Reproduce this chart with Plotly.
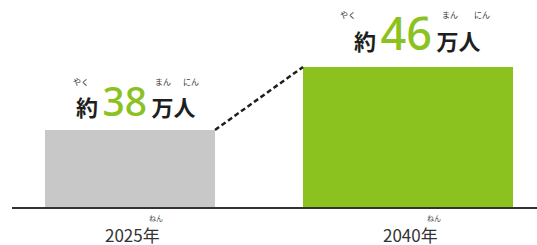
import plotly.graph_objects as go

years = ["2025年", "2040年"]
values = [38, 46]
label_nums = ["38", "46"]
bar_colors = ["#c8c8c8", "#8cc21f"]
bar_widths = [0.6115, 0.7554]
xpos = [0, 1]

GREEN = "#8cc21f"
DARK = "#1e1e1e"
CJK = "Noto Sans CJK JP"

fig = go.Figure()
fig.add_trace(go.Bar(x=xpos, y=values, width=bar_widths,
                     marker=dict(color=bar_colors, line=dict(width=0)),
                     hoverinfo="skip", showlegend=False))

# dashed connector between bar tops
x0 = xpos[0] + bar_widths[0] / 2
x1 = xpos[1] - bar_widths[1] / 2
fig.add_trace(go.Scatter(x=[x0, x1], y=[values[0], values[1]], mode="lines",
                         line=dict(color=DARK, width=2.5, dash="5px,3px"),
                         hoverinfo="skip", showlegend=False))

annotations = []
num_sizes = [39, 45]
label_cfg = [
    dict(xs=6, ys=1, ruby=[(-49, "やく"), (33, "まん"), (61, "にん")], ry=48),
    dict(xs=9, ys=2, ruby=[(-60, "やく"), (42, "まん"), (74, "にん")], ry=52),
]
gap = "<span style='font-size:20px'> </span>"
for i in range(2):
    cfg = label_cfg[i]
    txt = (f"<span style='font-weight:bold'>約</span>{gap}"
           f"<span style='color:{GREEN};font-size:{num_sizes[i]}px;font-family:Noto Sans;font-weight:500'>{label_nums[i]}</span>"
           f"{gap}<span style='font-weight:bold'>万人</span>")
    annotations.append(dict(x=xpos[i], y=values[i], xref="x", yref="y",
                            text=txt, showarrow=False, xanchor="center",
                            yanchor="bottom", xshift=cfg["xs"], yshift=cfg["ys"],
                            font=dict(family=CJK, size=22, color=DARK)))
    for dx, r in cfg["ruby"]:
        annotations.append(dict(x=xpos[i], y=values[i], xref="x", yref="y",
                                text=r, showarrow=False, xanchor="center",
                                yanchor="middle", xshift=dx,
                                yshift=cfg["ry"],
                                font=dict(family=CJK, size=8, color="#333")))
    # year labels
    annotations.append(dict(x=xpos[i], y=0, xref="x", yref="paper",
                            text=years[i], showarrow=False, xanchor="center",
                            yanchor="middle", yshift=-27, xshift=2,
                            borderpad=0,
                            font=dict(family=CJK, size=17, color="#333")))
    annotations.append(dict(x=xpos[i], y=0, xref="x", yref="paper",
                            text="ねん", showarrow=False, xanchor="center",
                            yanchor="middle", yshift=-11, xshift=26,
                            borderpad=0,
                            font=dict(family=CJK, size=7, color="#444")))

fig.update_layout(
    width=537, height=245,
    margin=dict(l=12, r=0, t=0, b=38),
    paper_bgcolor="white", plot_bgcolor="white",
    xaxis=dict(range=[-0.4245, 1.464], showgrid=False, zeroline=False,
               showticklabels=False, ticks="", showline=True,
               linecolor="#333", linewidth=2, fixedrange=True),
    yaxis=dict(range=[28.22, 54.5], visible=False, fixedrange=True),
    annotations=annotations,
    bargap=0,
)

fig.write_html("out.html", config={"displayModeBar": False},
               post_script="document.body.style.margin='0';document.body.style.overflow='hidden';")
